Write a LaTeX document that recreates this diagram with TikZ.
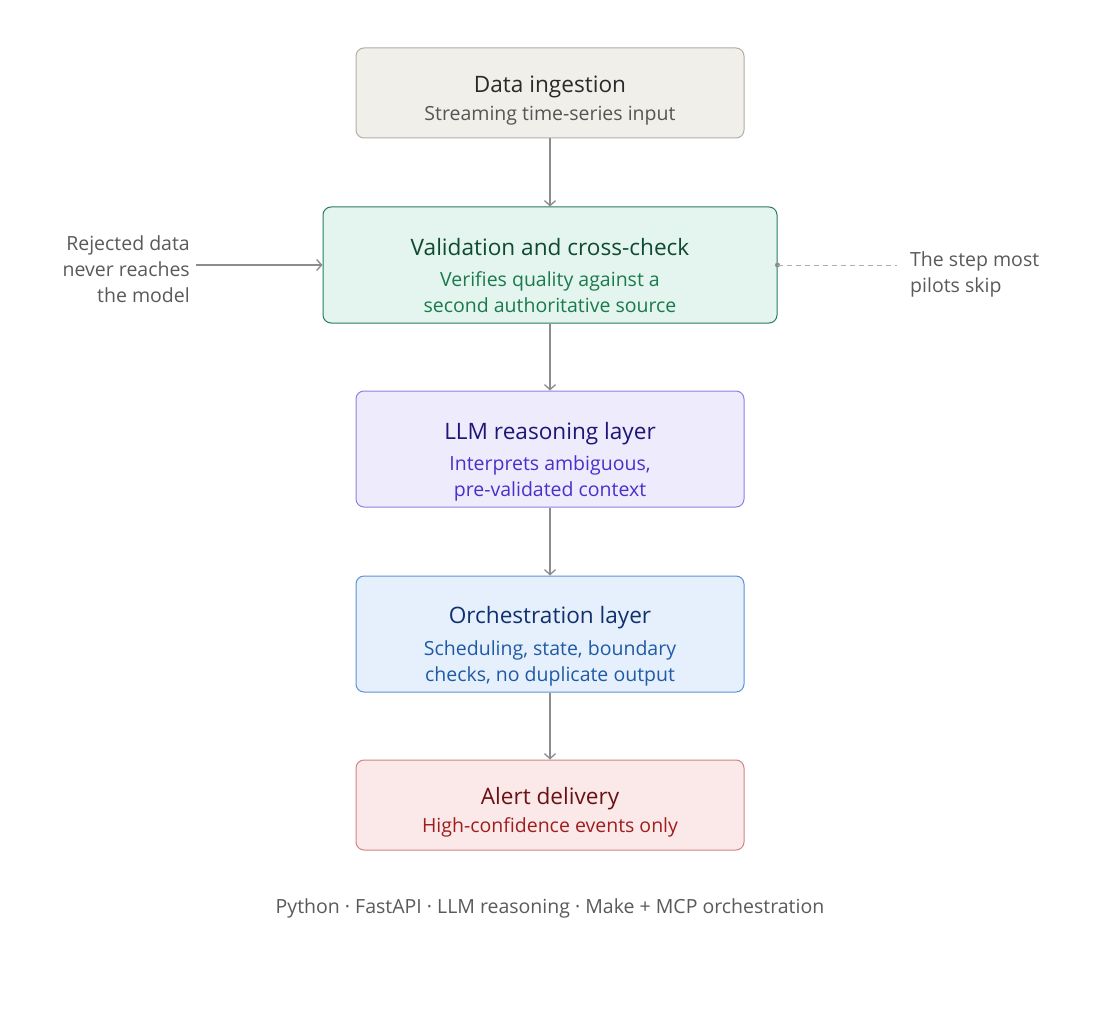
\documentclass[tikz,border=0pt]{standalone}
\usepackage{fontspec}
\setmainfont{Open Sans}
\usetikzlibrary{arrows.meta}
\definecolor{linegray}{HTML}{8C8C8C}
\definecolor{notegray}{HTML}{5A5A5A}
\definecolor{ingfill}{HTML}{F1EFEA}
\definecolor{ingdraw}{HTML}{B3AFA8}
\definecolor{ingtext}{HTML}{2A2A2A}
\definecolor{ingsub}{HTML}{555555}
\definecolor{valfill}{HTML}{E3F5EE}
\definecolor{valdraw}{HTML}{2A7D5A}
\definecolor{valtext}{HTML}{0E4A32}
\definecolor{valsub}{HTML}{1B7A4D}
\definecolor{llmfill}{HTML}{EEEBFD}
\definecolor{llmdraw}{HTML}{8E82E0}
\definecolor{llmtext}{HTML}{1E1577}
\definecolor{llmsub}{HTML}{4A30C8}
\definecolor{orcfill}{HTML}{E6F0FC}
\definecolor{orcdraw}{HTML}{5E90D6}
\definecolor{orctext}{HTML}{10306E}
\definecolor{orcsub}{HTML}{1F5AA6}
\definecolor{alrfill}{HTML}{FBE9E9}
\definecolor{alrdraw}{HTML}{D08585}
\definecolor{alrtext}{HTML}{6B1013}
\definecolor{alrsub}{HTML}{A11D1D}

\begin{document}
\begin{tikzpicture}[x=1pt,y=-1pt,
    stage/.style={draw,rounded corners=8pt,line width=1pt,
                  minimum width=388pt,inner sep=0pt},
    ttl/.style={anchor=base,inner sep=0pt,font=\fontsize{22.6}{26}\selectfont},
    sbt/.style={anchor=base,inner sep=0pt,font=\fontsize{19.5}{26}\selectfont},
    flow/.style={draw=linegray,line width=1.5pt,
                 -{Straight Barb[length=5pt,width=11pt,line width=1.3pt]}},
    note/.style={text=notegray,font=\fontsize{19.5}{26}\selectfont,inner sep=0pt}]
    \useasboundingbox[fill=white] (0,0) rectangle (1100,1035);
    % the five stages
    \node[stage,fill=ingfill,draw=ingdraw,minimum height=90pt] (ingest) at (550,93) {};
    \node[ttl,text=ingtext] (ingest-t) at (550,93) {Data ingestion};
    \node[sbt,text=ingsub] (ingest-s) at (550,121) {Streaming time-series input};

    \node[stage,fill=valfill,draw=valdraw,minimum height=116pt,minimum width=454pt] (valid) at (550,265) {};
    \node[ttl,text=valtext] (valid-t) at (550,255) {Validation and cross-check};
    \node[sbt,text=valsub] (valid-s1) at (550,286) {Verifies quality against a};
    \node[sbt,text=valsub] (valid-s2) at (550,312) {second authoritative source};

    \node[stage,fill=llmfill,draw=llmdraw,minimum height=116pt] (llm) at (550,449) {};
    \node[ttl,text=llmtext] (llm-t) at (550,439) {LLM reasoning layer};
    \node[sbt,text=llmsub] (llm-s1) at (550,470) {Interprets ambiguous,};
    \node[sbt,text=llmsub] (llm-s2) at (550,496) {pre-validated context};

    \node[stage,fill=orcfill,draw=orcdraw,minimum height=116pt] (orch) at (550,634) {};
    \node[ttl,text=orctext] (orch-t) at (550,623) {Orchestration layer};
    \node[sbt,text=orcsub] (orch-s1) at (550,655) {Scheduling, state, boundary};
    \node[sbt,text=orcsub] (orch-s2) at (550,681) {checks, no duplicate output};

    \node[stage,fill=alrfill,draw=alrdraw,minimum height=90pt] (alert) at (550,805) {};
    \node[ttl,text=alrtext] (alert-t) at (550,804) {Alert delivery};
    \node[sbt,text=alrsub] (alert-s) at (550,832) {High-confidence events only};

    \draw[flow] (ingest) -- (valid);
    \draw[flow] (valid) -- (llm);
    \draw[flow] (llm) -- (orch);
    \draw[flow] (orch) -- (alert);
    % side notes
    \node[note,anchor=east,align=right] (reject) at (190,269)
        {Rejected data\\never reaches\\the model};
    \coordinate (rej) at (196,265);
    \draw[flow] (rej) -- (valid.west |- rej);
    \node[note,anchor=west,align=left] (skip) at (910,274) {The step most\\pilots skip};
    \coordinate (dot) at (valid.east |- rej);
    \coordinate (skp) at (897,265);
    \fill[linegray] (dot) circle (2.5pt);
    \draw[linegray!70,line width=1pt,dash pattern=on 5pt off 4pt] (dot) -- (skp);
    % footer
    \node[note] (stack) at (550,908) {Python · FastAPI · LLM reasoning · Make + MCP orchestration};
\end{tikzpicture}
\end{document}
